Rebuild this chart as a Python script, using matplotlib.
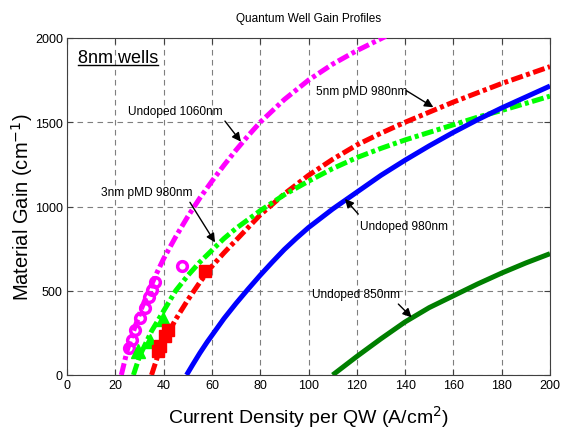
import numpy as np
import matplotlib
matplotlib.use('Agg')
import matplotlib.pyplot as plt

NARROW = ['Liberation Sans', 'DejaVu Sans']
REGULAR = ['Liberation Sans', 'DejaVu Sans']

# current density per QW (A/cm2) and material gain (1/cm)
j_1060 = [22.5, 25, 28, 31, 34, 37, 40, 45, 50, 55, 60, 65, 70, 75, 80, 90, 100, 110, 120, 132]
g_1060 = [0, 150, 280, 400, 505, 600, 690, 820, 940, 1050, 1150, 1245, 1335, 1420, 1500, 1635, 1750, 1845, 1925, 2010]

j_5nm = [35, 37.5, 40, 45, 50, 55, 60, 65, 70, 80, 90, 100, 110, 120, 130, 140, 150, 160, 170, 180, 190, 200]
g_5nm = [0, 110, 200, 330, 445, 550, 645, 725, 800, 950, 1075, 1185, 1280, 1365, 1435, 1500, 1560, 1620, 1675, 1730, 1780, 1830]

j_3nm = [27.5, 30, 35, 40, 45, 50, 55, 60, 65, 70, 80, 90, 100, 110, 120, 130, 140, 150, 160, 170, 180, 190, 200]
g_3nm = [0, 110, 260, 380, 500, 590, 670, 740, 810, 870, 975, 1070, 1150, 1225, 1290, 1345, 1395, 1440, 1485, 1530, 1570, 1612, 1655]

j_980 = [49.5, 52, 55, 58, 60, 65, 70, 75, 80, 85, 90, 95, 100, 110, 120, 130, 140, 150, 160, 170, 180, 190, 200]
g_980 = [0, 60, 130, 195, 235, 335, 425, 510, 592, 670, 745, 812, 875, 985, 1085, 1185, 1275, 1360, 1440, 1515, 1585, 1650, 1715]

j_850 = [110, 115, 120, 130, 140, 150, 160, 170, 180, 190, 200]
g_850 = [0, 55, 110, 215, 315, 400, 470, 540, 605, 665, 720]

# measured points
circ_j = [25.5, 26.8, 28.3, 30.2, 32.2, 34.0, 35.2, 36.4, 47.5]
circ_g = [160, 210, 270, 340, 400, 460, 505, 550, 645]
tri_j = [29.5, 34.4, 39.8]
tri_g = [140, 200, 335]
sq_j = [37.8, 38.5, 40.6, 41.9, 57.1]
sq_g = [145, 175, 230, 265, 620]

x_ticks = list(range(0, 201, 20))
y_ticks = [0, 500, 1000, 1500, 2000]

fig = plt.figure(figsize=(5.61, 4.31), dpi=100)
ax = fig.add_axes([67/561, 55/431, 483/561, 337/431])

dashdot = [2.4, 0.7, 0.8, 0.7]
lw = 3.6

ax.plot(j_1060, g_1060, color='#ff00ff', lw=lw, dashes=dashdot, zorder=3)
ax.plot(j_5nm, g_5nm, color='#ff0000', lw=lw, dashes=dashdot, zorder=3)
ax.plot(j_3nm, g_3nm, color='#00ff00', lw=lw, dashes=dashdot, zorder=3)
ax.plot(j_980, g_980, color='#0000ff', lw=lw, solid_capstyle='butt', zorder=3)
ax.plot(j_850, g_850, color='#007f00', lw=lw, solid_capstyle='butt', zorder=3)

ax.plot(circ_j, circ_g, 'o', mfc='none', mec='#ff00ff', mew=2.5, ms=7, zorder=4)
ax.plot(tri_j, tri_g, '^', color='#00ff00', ms=10, zorder=4)
ax.plot(sq_j, sq_g, 's', color='#ff0000', ms=8, zorder=4)

ax.set_xlim(0, 200)
ax.set_ylim(0, 2000)
ax.set_xticks(x_ticks)
ax.set_yticks(y_ticks)
ax.grid(True, color='#7f7f7f', lw=0.8, linestyle=(0, (5, 4)))
ax.set_axisbelow(True)
ax.tick_params(direction='in', length=4, width=0.8, top=True, right=True,
               colors='#404040', labelcolor='black', pad=3)
for lab in ax.get_xticklabels() + ax.get_yticklabels():
    lab.set_family(NARROW)
    lab.set_fontsize(9)
for sp in ax.spines.values():
    sp.set_color('#404040')
    sp.set_linewidth(0.8)

ax.set_xlabel('Current Density per QW (A/cm$^2$)', family=REGULAR, fontsize=14, va='baseline')
ax.set_ylabel('Material Gain (cm$^{-1}$)', family=REGULAR, fontsize=14.5)
ax.xaxis.set_label_coords(0.5, -0.142)
ax.yaxis.set_label_coords(-0.066, 0.5)
ax.set_title('Quantum Well Gain Profiles', family=NARROW, fontsize=8.5, pad=12)

# curve labels with arrows
txt = dict(family=NARROW, fontsize=8.6, ha='center', va='center')
arw = dict(arrowstyle='-|>', color='black', lw=1.0, mutation_scale=13, shrinkA=0, shrinkB=0)

ax.text(45, 1569, 'Undoped 1060nm', **txt)
ax.annotate('', xy=(72, 1385), xytext=(65.4, 1507), arrowprops=arw)

ax.text(122, 1687, '5nm pMD 980nm', **txt)
ax.annotate('', xy=(151.7, 1589), xytext=(140.6, 1687), arrowprops=arw)

ax.text(33, 1089, '3nm pMD 980nm', **txt)
ax.annotate('', xy=(61.3, 787), xytext=(50.9, 1025), arrowprops=arw)

ax.text(139.5, 886, 'Undoped 980nm', **txt)
ax.annotate('', xy=(115.1, 1045), xytext=(120.6, 955), arrowprops=arw)

ax.text(119.6, 481, 'Undoped 850nm', **txt)
ax.annotate('', xy=(142.7, 342), xytext=(137.2, 421), arrowprops=arw)

wells = ax.text(4.5, 1885, '8nm wells', family=REGULAR, fontsize=13, ha='left', va='center')

# underline the "8nm wells" box label
fig.canvas.draw()
bb = wells.get_window_extent(renderer=fig.canvas.get_renderer())
inv = fig.transFigure.inverted()
(x0, y0), (x1, y1) = inv.transform([(bb.x0, bb.y0), (bb.x1, bb.y0)])
fig.add_artist(plt.Line2D([x0, x1], [y0 + 1/431, y0 + 1/431], color='black', lw=1.0))

fig.savefig('out.png', dpi=100)
